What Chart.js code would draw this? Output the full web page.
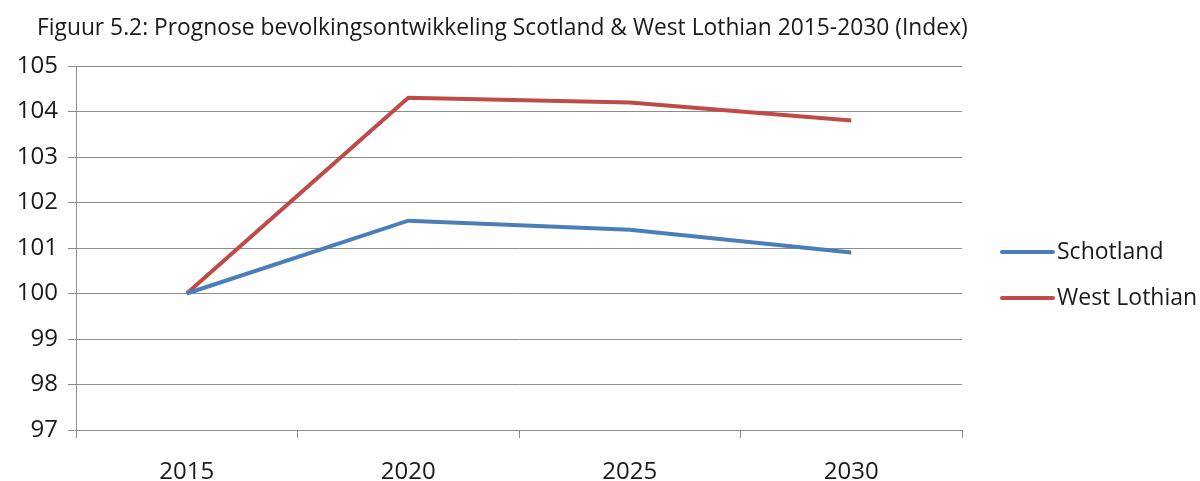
<!DOCTYPE html>
<html lang="nl">
<head>
  <meta charset="UTF-8">
  <title>Prognose bevolkingsontwikkeling</title>
  <style>
    html, body { margin: 0; padding: 0; background: #ffffff; }
    #wrap { width: 1200px; height: 481px; position: relative; }
  </style>
</head>
<body>
  <div id="wrap"><canvas id="chart" width="1200" height="481"></canvas></div>

  <script src="https://cdn.jsdelivr.net/npm/chart.js"></script>
  <script>
    // data
    const years = ['2015', '2020', '2025', '2030'];
    const schotland = [100, 101.6, 101.4, 100.9];
    const westLothian = [100, 104.3, 104.2, 103.8];
    const yTicks = [97, 98, 99, 100, 101, 102, 103, 104, 105];

    const FONT = "'Open Sans', sans-serif";
    const GRID = '#8c8c8c';
    const TEXT = '#1a1a1a';
    const TITLE = 'Figuur 5.2: Prognose bevolkingsontwikkeling Scotland & West Lothian 2015-2030 (Index)';

    // title and legend drawn by hand, placed like the Excel original
    const decor = {
      id: 'decor',
      afterDraw(chart) {
        const ctx = chart.ctx;
        ctx.save();
        ctx.fillStyle = TEXT;
        ctx.textBaseline = 'alphabetic';
        ctx.font = '22.8px ' + FONT;
        ctx.fillText(TITLE, 37, 35);

        ctx.font = '23px ' + FONT;
        ctx.textBaseline = 'middle';
        chart.data.datasets.forEach((ds, i) => {
          const y = 252 + i * 46;
          ctx.strokeStyle = ds.borderColor;
          ctx.lineWidth = 4;
          ctx.lineCap = 'round';
          ctx.beginPath();
          ctx.moveTo(1002, y);
          ctx.lineTo(1053, y);
          ctx.stroke();
          ctx.fillStyle = TEXT;
          ctx.fillText(ds.label, 1057, y);
        });
        ctx.restore();
      }
    };

    new Chart(document.getElementById('chart'), {
      type: 'line',
      data: {
        labels: years,
        datasets: [
          {
            label: 'Schotland',
            data: schotland,
            borderColor: '#4a7ebb',
            borderWidth: 4,
            pointRadius: 0,
            tension: 0
          },
          {
            label: 'West Lothian',
            data: westLothian,
            borderColor: '#be4b48',
            borderWidth: 4,
            pointRadius: 0,
            tension: 0
          }
        ]
      },
      options: {
        responsive: false,
        animation: false,
        layout: { padding: { left: 12, right: 238, top: 66, bottom: 0 } },
        plugins: {
          legend: { display: false },
          tooltip: { enabled: false },
          title: { display: false }
        },
        scales: {
          x: {
            offset: true,
            afterFit(axis) {
              axis.height = 51;
            },
            grid: {
              offset: true,
              drawOnChartArea: false,
              color: GRID,
              tickLength: 8
            },
            border: { color: GRID },
            ticks: {
              color: TEXT,
              font: { family: FONT, size: 24 },
              padding: 20
            }
          },
          y: {
            min: 97,
            max: 105,
            afterBuildTicks(axis) {
              axis.ticks = yTicks.map(v => ({ value: v }));
            },
            afterFit(axis) {
              axis.width = 64;
            },
            grid: { color: GRID, tickLength: 8 },
            border: { color: GRID },
            ticks: {
              color: TEXT,
              font: { family: FONT, size: 24 },
              padding: 10
            }
          }
        }
      },
      plugins: [decor]
    });
  </script>
</body>
</html>
